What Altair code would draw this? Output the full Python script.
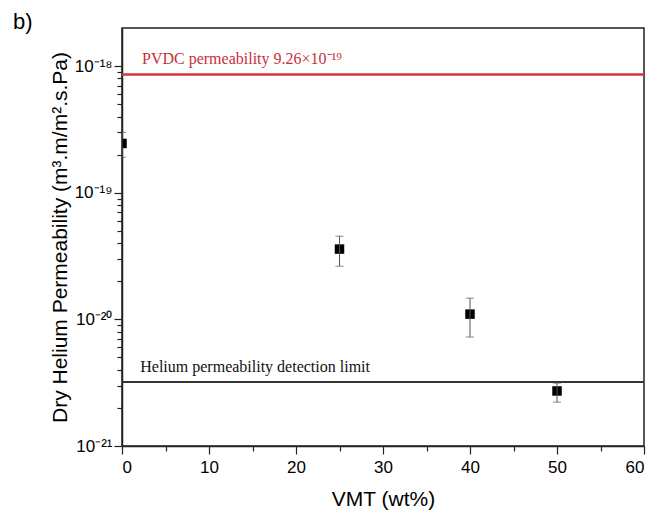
import altair as alt
import pandas as pd

# ---- data ----
vmt = [0, 25, 40, 50]
perm = [2.45e-19, 3.59e-20, 1.10e-20, 2.72e-21]
perm_hi = [3.00e-19, 4.54e-20, 1.47e-20, 3.14e-21]
perm_lo = [1.91e-19, 2.63e-20, 7.25e-21, 2.22e-21]

pvdc_value = 8.6e-19
limit_value = 3.2e-21
pvdc_text = "PVDC permeability 9.26×10⁻¹⁹"
limit_text = "Helium permeability detection limit"

x_ticks = [0, 5, 10, 15, 20, 25, 30, 35, 40, 45, 50, 55, 60]
y_decades = [-21, -20, -19, -18]
y_labels = ["10⁻²¹", "10⁻²⁰", "10⁻¹⁹", "10⁻¹⁸"]

# ---- helpers ----
y_ticks = []
for d in y_decades:
    y_ticks.append(10.0 ** d)
    if d < -18:
        for k in range(2, 10):
            y_ticks.append(k * 10.0 ** d)

label_expr = "".join(
    f"abs(log(datum.value)/LN10 - ({d})) < 1e-6 ? '{lab}' : " for d, lab in zip(y_decades, y_labels)
) + "''"
major_test_y = "abs(log(datum.value)/LN10 - round(log(datum.value)/LN10)) < 1e-6"

df = pd.DataFrame({"vmt": vmt, "perm": perm, "hi": perm_hi, "lo": perm_lo})
df_pvdc = pd.DataFrame({"vmt": [2.3], "perm": [pvdc_value], "t": [pvdc_text]})
df_lim = pd.DataFrame({"vmt": [2.1], "perm": [limit_value], "t": [limit_text]})
df_tag = pd.DataFrame({"t": ["b)"]})

xscale = alt.Scale(domain=[0, 60], nice=False, zero=False)
yscale = alt.Scale(type="log", domain=[1e-21, 2e-18], nice=False)

x_axis = alt.Axis(
    values=x_ticks,
    labelExpr="datum.value % 10 === 0 ? datum.label : ''",
    tickSize={"condition": {"test": "datum.value % 10 === 0", "value": 8}, "value": 5},
    title="VMT (wt%)",
    titleX=261, titleY=59, titleBaseline="alphabetic", titleAlign="center",
    labelPadding=5, labelFontSize=17,
)
y_axis = alt.Axis(
    values=y_ticks,
    labelExpr=label_expr,
    tickSize={"condition": {"test": major_test_y, "value": 8}, "value": 5},
    title="Dry Helium Permeability (m³.m/m².s.Pa)",
    titleX=-56, titleY=209, titleBaseline="alphabetic", titleAlign="center", titleAngle=-90,
    labelPadding=2, labelFontSize=17,
)


def X(field):
    return alt.X(field, type="quantitative", scale=xscale, axis=x_axis)


def Y(field):
    return alt.Y(field, type="quantitative", scale=yscale, axis=y_axis)


points = alt.Chart(df).mark_square(size=90, color="black", opacity=1, clip=True).encode(
    x=X("vmt"), y=Y("perm")
)
bars = alt.Chart(df).mark_rule(color="#555555", strokeWidth=1, clip=True).encode(
    x=X("vmt"), y=Y("lo"), y2="hi:Q"
)
cap_hi = alt.Chart(df).mark_tick(orient="horizontal", size=8, thickness=1, color="#555555", clip=True).encode(
    x=X("vmt"), y=Y("hi")
)
cap_lo = alt.Chart(df).mark_tick(orient="horizontal", size=8, thickness=1, color="#555555", clip=True).encode(
    x=X("vmt"), y=Y("lo")
)
red_line = alt.Chart(df_pvdc).mark_rule(color="#d3343c", strokeWidth=2.5).encode(y=Y("perm"))
black_line = alt.Chart(df_lim).mark_rule(color="#333333", strokeWidth=2).encode(y=Y("perm"))
red_text = alt.Chart(df_pvdc).mark_text(
    align="left", baseline="alphabetic", dy=-10, font="Liberation Serif", fontSize=16, color="#c8303a"
).encode(x=X("vmt"), y=Y("perm"), text="t:N")
black_text = alt.Chart(df_lim).mark_text(
    align="left", baseline="alphabetic", dy=-10, font="Liberation Serif", fontSize=16, color="#111111"
).encode(x=X("vmt"), y=Y("perm"), text="t:N")
tag = alt.Chart(df_tag).mark_text(
    align="left", baseline="alphabetic", font="Liberation Sans", fontSize=22, color="black"
).encode(x=alt.value(-109), y=alt.value(1), text="t:N")

chart = (
    alt.layer(points, red_line, black_line, bars, cap_hi, cap_lo, red_text, black_text, tag)
    .properties(
        width=522, height=418,
        autosize=alt.AutoSizeParams(type="none"),
        padding={"left": 114, "top": 20, "right": 4, "bottom": 70},
    )
    .configure_view(stroke="#222222", strokeWidth=1.5)
    .configure_axis(
        grid=False, domainColor="#222222", domainWidth=1.5, tickColor="#222222", tickWidth=1.2,
        labelFont="Liberation Sans", labelColor="black",
        titleFont="Liberation Sans", titleFontWeight="normal", titleFontSize=21, titleColor="black",
    )
)

chart.save("out.html", embed_options={"renderer": "svg", "actions": False})
